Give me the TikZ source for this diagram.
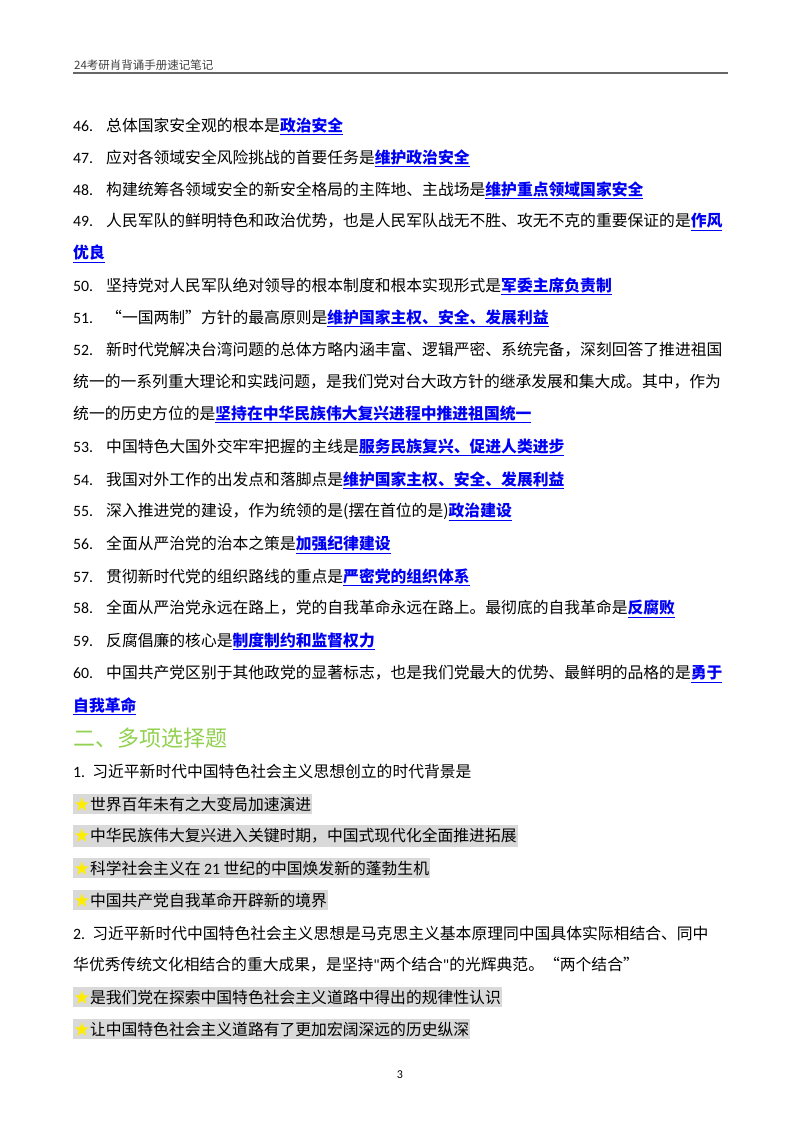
\documentclass[tikz,border=0pt]{standalone}
\usepackage{fontspec}
\setmainfont{Noto Sans CJK SC}
\newfontfamily\numfont{Carlito}
\definecolor{ansblue}{rgb}{0.0,0.0,0.95}
\definecolor{headgreen}{rgb}{0.57,0.82,0.31}
\definecolor{hlgray}{rgb}{0.85,0.85,0.85}
\definecolor{starcol}{rgb}{1.0,0.93,0.0}
\newcommand{\ans}[1]{{\color{ansblue}\bfseries\underline{#1}}}
\newcommand{\num}[1]{\makebox[33pt][l]{\numfont #1}}
\newcommand{\hstar}{{\color{starcol}★}}
\tikzset{
  line/.style={anchor=west,inner sep=0pt,font=\fontsize{15.8}{18}\selectfont},
  pick/.style={line,fill=hlgray,inner ysep=3pt,inner xsep=1pt},
}
\begin{document}
\begin{tikzpicture}[x=1pt,y=-1pt]
\useasboundingbox (0,0) rectangle (800,1132);
% header
\node[anchor=south west,inner sep=1pt,font=\fontsize{11.5}{13}\selectfont,text=black!75] (head) at (73,72) {24考研肖背诵手册速记笔记};
\coordinate (rl) at (73,73);
\coordinate (rr) at (728,73);
\draw[black!60,line width=1pt] (rl) -- (rr);
% single choice 46-60
\node[line] (q46) at (73,126) {\num{46.}总体国家安全观的根本是\ans{政治安全}};
\node[line] (q47) at (73,158) {\num{47.}应对各领域安全风险挑战的首要任务是\ans{维护政治安全}};
\node[line] (q48) at (73,190) {\num{48.}构建统筹各领域安全的新安全格局的主阵地、主战场是\ans{维护重点领域国家安全}};
\node[line] (q49) at (73,222) {\num{49.}人民军队的鲜明特色和政治优势，也是人民军队战无不胜、攻无不克的重要保证的是\ans{作风}};
\node[line] (q49b) at (73,254) {\ans{优良}};
\node[line] (q50) at (73,286) {\num{50.}坚持党对人民军队绝对领导的根本制度和根本实现形式是\ans{军委主席负责制}};
\node[line] (q51) at (73,318) {\num{51.}“一国两制”方针的最高原则是\ans{维护国家主权、安全、发展利益}};
\node[line] (q52) at (73,350) {\num{52.}新时代党解决台湾问题的总体方略内涵丰富、逻辑严密、系统完备，深刻回答了推进祖国};
\node[line] (q52b) at (73,382) {统一的一系列重大理论和实践问题，是我们党对台大政方针的继承发展和集大成。其中，作为};
\node[line] (q52c) at (73,414) {统一的历史方位的是\ans{坚持在中华民族伟大复兴进程中推进祖国统一}};
\node[line] (q53) at (73,447) {\num{53.}中国特色大国外交牢牢把握的主线是\ans{服务民族复兴、促进人类进步}};
\node[line] (q54) at (73,480) {\num{54.}我国对外工作的出发点和落脚点是\ans{维护国家主权、安全、发展利益}};
\node[line] (q55) at (73,512) {\num{55.}深入推进党的建设，作为统领的是(摆在首位的是)\ans{政治建设}};
\node[line] (q56) at (73,545) {\num{56.}全面从严治党的治本之策是\ans{加强纪律建设}};
\node[line] (q57) at (73,577) {\num{57.}贯彻新时代党的组织路线的重点是\ans{严密党的组织体系}};
\node[line] (q58) at (73,609) {\num{58.}全面从严治党永远在路上，党的自我革命永远在路上。最彻底的自我革命是\ans{反腐败}};
\node[line] (q59) at (73,641) {\num{59.}反腐倡廉的核心是\ans{制度制约和监督权力}};
\node[line] (q60) at (73,674) {\num{60.}中国共产党区别于其他政党的显著标志，也是我们党最大的优势、最鲜明的品格的是\ans{勇于}};
\node[line] (q60b) at (73,706) {\ans{自我革命}};
% multiple choice
\node[line,font=\fontsize{22}{25}\selectfont,text=headgreen] (sec2) at (73,738) {二、多项选择题};
\node[line] (m1) at (73,771) {\numfont 1.\ \ \normalfont 习近平新时代中国特色社会主义思想创立的时代背景是};
\node[pick] (m1a) at (73,804) {\hstar 世界百年未有之大变局加速演进};
\node[pick] (m1b) at (73,836) {\hstar 中华民族伟大复兴进入关键时期，中国式现代化全面推进拓展};
\node[pick] (m1c) at (73,868) {\hstar 科学社会主义在 {\numfont 21} 世纪的中国焕发新的蓬勃生机};
\node[pick] (m1d) at (73,900) {\hstar 中国共产党自我革命开辟新的境界};
\node[line] (m2) at (73,933) {\numfont 2.\ \ \normalfont 习近平新时代中国特色社会主义思想是马克思主义基本原理同中国具体实际相结合、同中};
\node[line] (m2b) at (73,965) {华优秀传统文化相结合的重大成果，是坚持{\numfont\char"22}两个结合{\numfont\char"22}的光辉典范。“两个结合”};
\node[pick] (m2a) at (73,997) {\hstar 是我们党在探索中国特色社会主义道路中得出的规律性认识};
\node[pick] (m2c) at (73,1029) {\hstar 让中国特色社会主义道路有了更加宏阔深远的历史纵深};
% page number
\node[inner sep=0pt,font=\numfont\fontsize{12}{14}\selectfont] (pg) at (400,1075) {3};
\end{tikzpicture}
\end{document}
